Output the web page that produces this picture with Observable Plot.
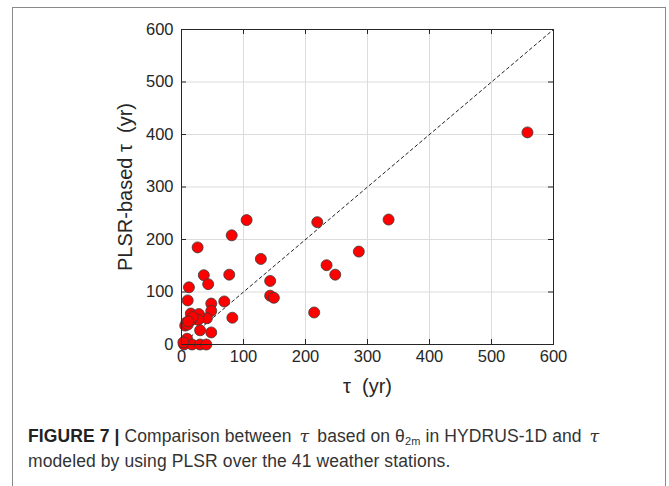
<!DOCTYPE html>
<html>
<head>
<meta charset="utf-8">
<script src="https://cdn.jsdelivr.net/npm/d3@7"></script>
<script src="https://cdn.jsdelivr.net/npm/@observablehq/plot@0.6"></script>
<style>
  html, body { margin: 0; padding: 0; background: #fff; }
  #wrap { position: relative; width: 669px; height: 486px; overflow: hidden; }
  #border { position: absolute; left: 12px; top: 7px; width: 654px; height: 520px; border: 1px solid #8a8a8a; box-sizing: border-box; pointer-events: none; }
  #chart { position: absolute; left: 0; top: 0; }
  #caption { position: absolute; left: 28px; top: 424px; width: 630px; font-family: "Liberation Sans", Arial, sans-serif; font-size: 17.5px; line-height: 25px; color: #333; letter-spacing: 0.1px; }
  #caption b { color: #222; }
  #caption sub { font-size: 11px; line-height: 0; vertical-align: -3px; }
  .tau { font-family: 'DejaVu Serif', serif; font-style: italic; margin: 0 3px; }
</style>
</head>
<body>
<div id="wrap">
  <div id="chart"></div>
  <div id="caption"><b>FIGURE 7 |</b> Comparison between <span class="tau">τ</span> based on θ<sub>2m</sub> in HYDRUS-1D and <span class="tau">τ</span><br>modeled by using PLSR over the 41 weather stations.</div>
  <div id="border"></div>
</div>
<script>
// τ based on θ2m in HYDRUS-1D (x) and PLSR-based τ (y), years
const tauHydrus = [558, 334, 286, 234, 248, 219, 214, 105, 81, 128, 77, 36, 26, 43, 143, 143, 149, 69, 48, 48, 82, 41,
                   12, 10, 15, 28, 27, 15, 8, 6, 10, 18, 30, 48, 9, 4, 17, 30, 40, 11, 3];
const tauPlsr   = [404, 238, 177, 151, 133, 233, 61, 237, 208, 163, 133, 132, 185, 115, 121, 93, 89, 82, 78, 64, 51, 50,
                   109, 84, 59, 58, 47, 46, 42, 36, 38, 52, 27, 23, 11, 0, 0, 0, 0, 44, 4];
const xTicks = [0, 100, 200, 300, 400, 500, 600];
const yTicks = [0, 100, 200, 300, 400, 500, 600];
const diag = [0, 600];
const xLabel = "τ  (yr)";
const yLabel = "PLSR-based τ  (yr)";

const data = tauHydrus.map((x, i) => ({x, y: tauPlsr[i]}));

const W = 669, H = 410, mT = 29, mB = 66, mL = 181, mR = 116;
const innerW = W - mL - mR, innerH = H - mT - mB;
const axisColor = "#262626";
const tickLen = 5;

const chart = Plot.plot({
  width: W, height: H,
  marginTop: mT, marginBottom: mB, marginLeft: mL, marginRight: mR,
  style: { fontFamily: "'Liberation Sans', Arial, sans-serif", fontSize: "16px", color: axisColor, background: "white" },
  x: { domain: [0, 600] },
  y: { domain: [0, 600] },
  marks: [
    Plot.gridX(xTicks, { stroke: "#dcdcdc", strokeOpacity: 1 }),
    Plot.gridY(yTicks, { stroke: "#dcdcdc", strokeOpacity: 1 }),
    // inward ticks (all four sides)
    Plot.tickX(xTicks, { x: d => d, insetTop: innerH - tickLen, stroke: axisColor }),
    Plot.tickX(xTicks, { x: d => d, insetBottom: innerH - tickLen, stroke: axisColor }),
    Plot.tickY(yTicks, { y: d => d, insetRight: innerW - tickLen, stroke: axisColor }),
    Plot.tickY(yTicks, { y: d => d, insetLeft: innerW - tickLen, stroke: axisColor }),
    Plot.axisX(xTicks, { tickSize: 0, tickPadding: 6, label: null, fontSize: 16.5, fill: axisColor }),
    Plot.axisY(yTicks, { tickSize: 0, tickPadding: 8, label: null, fontSize: 16.5, fill: axisColor }),
    Plot.line(diag, { x: d => d, y: d => d, stroke: "#222", strokeWidth: 1, strokeDasharray: "3,3" }),
    Plot.dot(data, { x: "x", y: "y", r: 5.5, fill: "#ff0000", stroke: "#3a3a3a", strokeWidth: 0.8 }),
    Plot.frame({ stroke: axisColor, strokeWidth: 1 }),
    Plot.text([xLabel], { frameAnchor: "bottom", dy: 42, lineAnchor: "middle", textAnchor: "middle", fontSize: 20, fill: axisColor }),
    Plot.text([yLabel], { frameAnchor: "left", dx: -56, rotate: -90, lineAnchor: "middle", textAnchor: "middle", fontSize: 20, fill: axisColor })
  ]
});
document.getElementById("chart").appendChild(chart);
</script>
</body>
</html>
